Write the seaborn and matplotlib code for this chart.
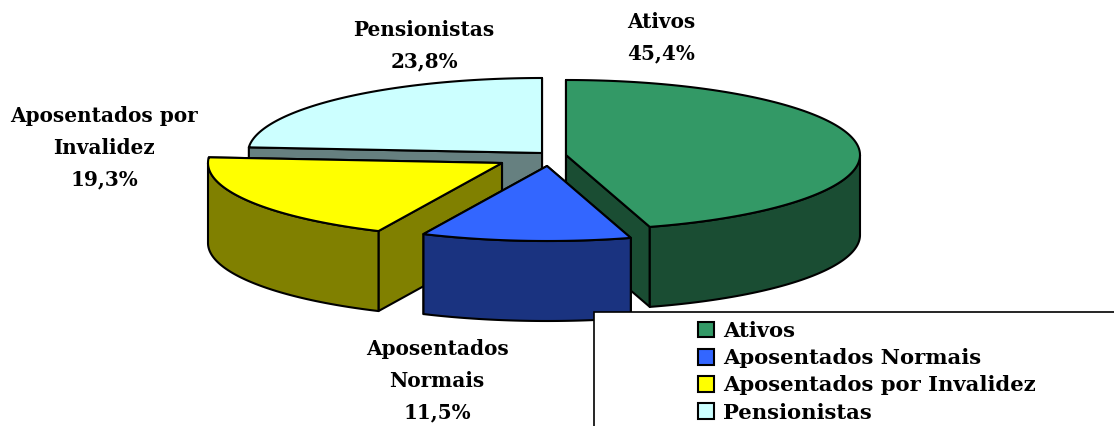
import numpy as np
import seaborn as sns
import matplotlib.pyplot as plt
from matplotlib.patches import Patch, Polygon, Rectangle

# Share of each group (%)
categories = ["Ativos", "Aposentados Normais", "Aposentados por Invalidez", "Pensionistas"]
shares = [45.4, 11.5, 19.3, 23.8]
slice_labels = ["Ativos\n45,4%", "Aposentados\nNormais\n11,5%",
                "Aposentados por\nInvalidez\n19,3%", "Pensionistas\n23,8%"]

top_colors = ["#339966", "#3366FF", "#FFFF00", "#CCFFFF"]
side_colors = ["#1A4D33", "#1A3380", "#808000", "#668080"]

# Layout of the fake 3D pie, in pixels
radius_x, radius_y, depth = 294, 75, 80
centers = [(566, 155), (547, 166), (502, 163), (542, 153)]
label_pos = [(661, 38), (437, 381), (104, 148), (424, 46)]
draw_order = [3, 2, 0, 1]

sns.set_theme(style="white")
plt.rcParams["font.family"] = ["DejaVu Serif"]
plt.rcParams["text.color"] = "black"

fig, ax = plt.subplots(figsize=(11.14, 4.26), dpi=100)
fig.subplots_adjust(left=0, right=1, top=1, bottom=0)
ax.set_xlim(0, 1114)
ax.set_ylim(426, 0)
ax.axis("off")

edges = np.concatenate([[0], np.cumsum(shares)]) / np.sum(shares) * 360


def rim(center, theta):
    t = np.radians(theta)
    return np.column_stack([center[0] + radius_x * np.sin(t), center[1] - radius_y * np.cos(t)])


def draw_poly(points, color, z):
    ax.add_patch(Polygon(points, closed=True, facecolor=color, edgecolor="black",
                         linewidth=1.5, joinstyle="round", zorder=z))


for z, i in enumerate(draw_order):
    center = centers[i]
    start, end = edges[i], edges[i + 1]
    down = np.array([0, depth])
    apex = np.array([center])

    # cut faces, the one further back first
    for theta in sorted([start, end], key=lambda a: rim(center, [a])[0, 1]):
        p = rim(center, [theta])
        draw_poly(np.vstack([apex, p, p + down, apex + down]), side_colors[i], z * 10 + 1)

    # outer wall, only the front half shows
    lo, hi = max(start, 90), min(end, 270)
    if hi > lo:
        arc = rim(center, np.linspace(lo, hi, 120))
        draw_poly(np.vstack([arc, arc[::-1] + down]), side_colors[i], z * 10 + 2)

    # top of the slice
    draw_poly(np.vstack([apex, rim(center, np.linspace(start, end, 200))]), top_colors[i], z * 10 + 3)

for (x, y), label in zip(label_pos, slice_labels):
    ax.text(x, y, label, ha="center", va="center", fontsize=14.4, fontweight="bold",
            color="black", linespacing=1.73, zorder=100)

# legend box runs off the right and bottom of the picture
ax.add_patch(Rectangle((594, 312), 530, 124, facecolor="white", edgecolor="black",
                       linewidth=1.2, zorder=200))
handles = [Patch(facecolor=c, edgecolor="black", linewidth=1.5) for c in top_colors]
leg = ax.legend(handles, categories, loc="upper left", bbox_to_anchor=(679, 302),
                bbox_transform=ax.transData, frameon=False,
                handlelength=0.76, handleheight=0.76, handletextpad=0.43, labelspacing=0.34,
                labelcolor="black", prop={"weight": "bold", "size": 15.2})
leg.set_zorder(300)

plt.savefig("out.png", dpi=100)
